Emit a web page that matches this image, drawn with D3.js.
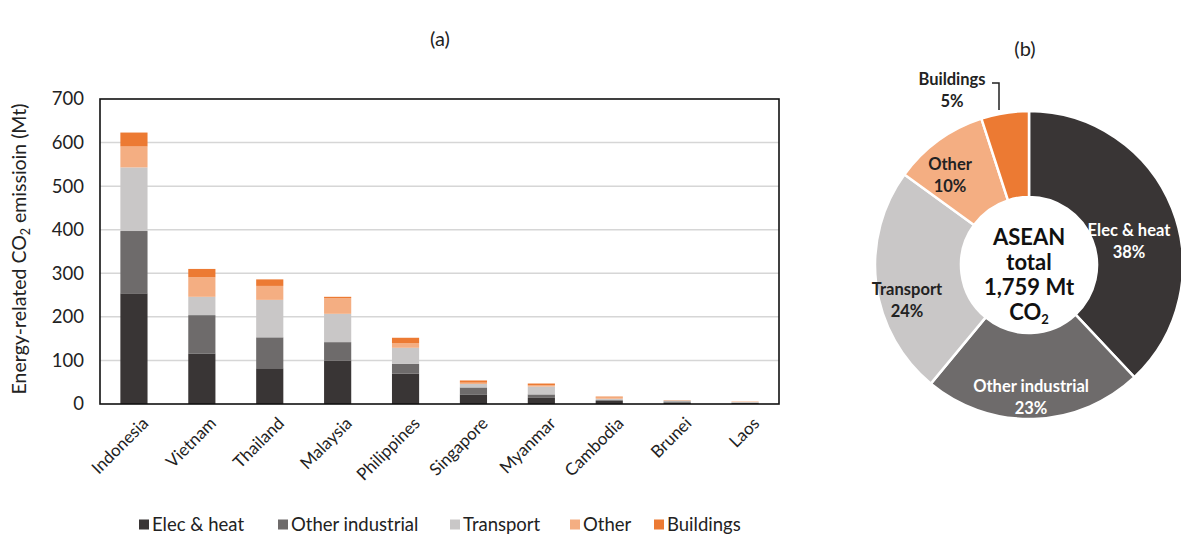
<!doctype html>
<html>
<head>
<meta charset="utf-8">
<style>
  body { margin: 0; background: #fff; }
  svg { font-family: Lato, "Open Sans", sans-serif; }
</style>
</head>
<body>
<svg width="1181" height="540"></svg>
<script src="https://cdn.jsdelivr.net/npm/d3@7"></script>
<script>
// data
let countries = ["Indonesia", "Vietnam", "Thailand", "Malaysia", "Philippines",
                 "Singapore", "Myanmar", "Cambodia", "Brunei", "Laos"];
let sectors = ["Elec & heat", "Other industrial", "Transport", "Other", "Buildings"];
let elecHeat   = [254, 116, 82, 99, 70, 22, 14, 7, 3, 2];
let otherInd   = [143, 88, 71, 43, 22, 16, 8, 2, 3, 1];
let transport  = [146, 42, 86, 65, 37, 8, 18, 3, 2, 1.5];
let otherSect  = [48, 45, 32, 36, 11, 3, 3, 3, 0.5, 0.5];
let buildings  = [32, 19, 15, 3, 12, 5, 4, 2, 0.5, 0.5];
let yTicks = [0, 100, 200, 300, 400, 500, 600, 700];
let pieShares = [38, 23, 24, 10, 5];
let colors = ["#393535", "#6e6b6b", "#c9c7c7", "#f4ae82", "#ec7a33"];

let svg = d3.select("svg");

let rows = countries.map((c, i) => ({
  country: c,
  "Elec & heat": elecHeat[i],
  "Other industrial": otherInd[i],
  "Transport": transport[i],
  "Other": otherSect[i],
  "Buildings": buildings[i]
}));

let stacked = d3.stack().keys(sectors)(rows);

let x = d3.scaleBand().domain(countries).range([100, 779])
  .paddingInner(0.6).paddingOuter(0.3);
let y = d3.scaleLinear().domain([0, 700]).range([404, 99]);
let color = d3.scaleOrdinal().domain(sectors).range(colors);

// gridlines
svg.append("g")
  .selectAll("line")
  .data(yTicks.slice(1, -1))
  .join("line")
    .attr("x1", 100).attr("x2", 779)
    .attr("y1", d => y(d)).attr("y2", d => y(d))
    .attr("stroke", "#d6d6d6").attr("stroke-width", 1.5);

// bars
svg.append("g")
  .selectAll("g")
  .data(stacked)
  .join("g")
    .attr("fill", d => color(d.key))
  .selectAll("rect")
  .data(d => d)
  .join("rect")
    .attr("x", d => x(d.data.country))
    .attr("width", x.bandwidth())
    .attr("y", d => y(d[1]))
    .attr("height", d => y(d[0]) - y(d[1]));

// frame
svg.append("rect")
  .attr("x", 100).attr("y", 99).attr("width", 679).attr("height", 305)
  .attr("fill", "none").attr("stroke", "#111").attr("stroke-width", 1.6);

// y axis
let yAxis = svg.append("g")
  .attr("transform", "translate(100,0)")
  .call(d3.axisLeft(y).tickValues(yTicks).tickSize(0).tickPadding(16));
yAxis.select(".domain").remove();
yAxis.selectAll("text")
  .attr("font-size", 18.5).attr("fill", "#222").attr("font-family", "Lato, sans-serif");

// x labels
svg.append("g")
  .selectAll("text")
  .data(countries)
  .join("text")
    .attr("transform", d => `translate(${x(d) + x.bandwidth() / 2 + 7},${416}) rotate(-45)`)
    .attr("text-anchor", "end")
    .attr("dy", "0.7em")
    .attr("font-size", 17)
    .attr("fill", "#222")
    .text(d => d);

// y title
let yt = svg.append("text")
  .attr("transform", "translate(26,249) rotate(-90)")
  .attr("text-anchor", "middle")
  .attr("font-size", 19.5)
  .attr("fill", "#222");
yt.append("tspan").text("Energy-related CO");
yt.append("tspan").attr("font-size", 12.5).attr("dy", 4).text("2");
yt.append("tspan").attr("dy", -4).text(" emissioin (Mt)");

// panel titles
svg.append("text").attr("x", 440).attr("y", 46).attr("text-anchor", "middle")
  .attr("font-size", 20).attr("fill", "#222").text("(a)");
svg.append("text").attr("x", 1025).attr("y", 56).attr("text-anchor", "middle")
  .attr("font-size", 20).attr("fill", "#222").text("(b)");

// legend
let legendX = [144, 283, 455, 575, 659];
let lg = svg.append("g").selectAll("g")
  .data(sectors)
  .join("g")
    .attr("transform", (d, i) => `translate(${legendX[i]},531)`);
lg.append("rect").attr("x", -5).attr("y", -11.5).attr("width", 10).attr("height", 10)
  .attr("fill", d => color(d));
lg.append("text").attr("x", 8).attr("y", 0)
  .attr("font-size", 18.5).attr("fill", "#222").text(d => d);

// donut
let cx = 1029, cy = 265, rOuter = 154, rInner = 68;
let pie = d3.pie().sort(null).value(d => d);
let arc = d3.arc().innerRadius(rInner).outerRadius(rOuter);
let arcs = pie(pieShares);

let donut = svg.append("g").attr("transform", `translate(${cx},${cy})`);
donut.selectAll("path")
  .data(arcs)
  .join("path")
    .attr("d", arc)
    .attr("fill", (d, i) => colors[i])
    .attr("stroke", "#fff").attr("stroke-width", 2.5);

// slice labels
let labelPos = [[100, -29], [2, 127], [-122, 30], [-79, -95], [-77, -180]];
let labelFill = ["#fff", "#fff", "#222", "#222", "#222"];
let lab = donut.selectAll("text.lab")
  .data(arcs)
  .join("text")
    .attr("class", "lab")
    .attr("text-anchor", "middle")
    .attr("font-size", 16.5)
    .attr("font-weight", "bold")
    .attr("fill", (d, i) => labelFill[i]);
lab.append("tspan")
  .attr("x", (d, i) => labelPos[i][0]).attr("y", (d, i) => labelPos[i][1])
  .text((d, i) => sectors[i]);
lab.append("tspan")
  .attr("x", (d, i) => labelPos[i][0]).attr("y", (d, i) => labelPos[i][1] + 22)
  .text(d => d.data + "%");

// leader line for Buildings
donut.append("path")
  .attr("d", "M-37,-182H-30V-155")
  .attr("fill", "none").attr("stroke", "#222").attr("stroke-width", 1.5);

// centre text
let ct = donut.append("text").attr("text-anchor", "middle")
  .attr("font-size", 22).attr("font-weight", "bold").attr("fill", "#111");
ct.append("tspan").attr("x", 0).attr("y", -20).text("ASEAN");
ct.append("tspan").attr("x", 0).attr("y", 5).text("total");
ct.append("tspan").attr("x", 0).attr("y", 30).text("1,759 Mt");
ct.append("tspan").attr("x", 0).attr("y", 55).text("CO");
ct.append("tspan").attr("font-size", 13).attr("dy", 4).text("2");
</script>
</body>
</html>
